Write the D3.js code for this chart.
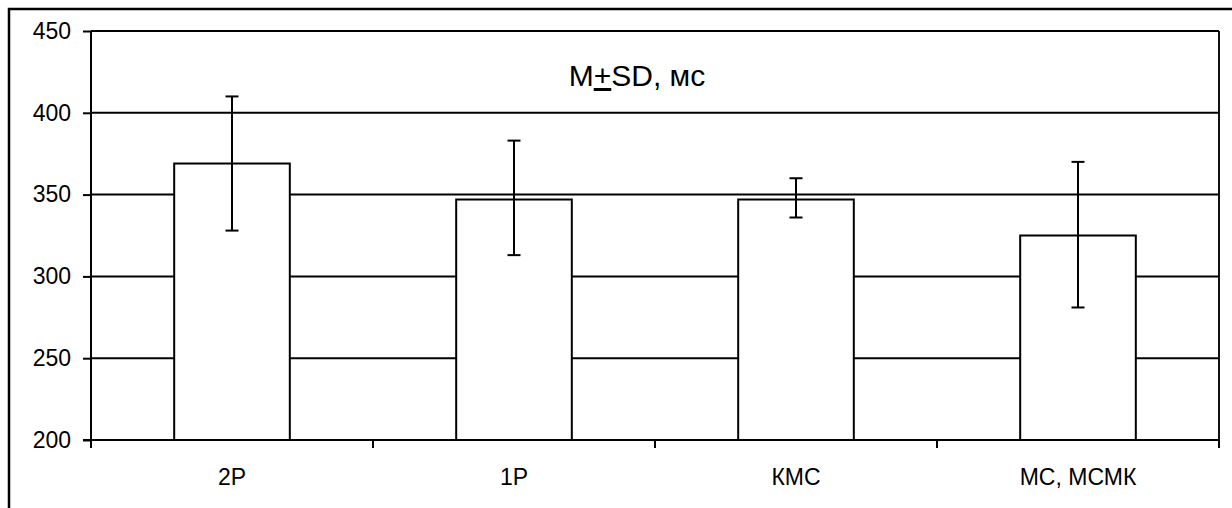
<!DOCTYPE html>
<html>
<head>
<meta charset="utf-8">
<script src="https://cdn.jsdelivr.net/npm/d3@7"></script>
<style>
  body { margin: 0; background: #fff; }
  svg text { font-family: "Liberation Sans", Arial, sans-serif; fill: #000; }
</style>
</head>
<body>
<div id="chart"></div>
<script>
// data
const categories = ["2Р", "1Р", "КМС", "МС, МСМК"];
const means = [369, 347, 347, 325];
const sdHigh = [410, 383, 360, 370];
const sdLow = [328, 313, 336, 281];
const yTicks = [200, 250, 300, 350, 400, 450];

const width = 1232, height = 508;
const plotLeft = 91, plotRight = 1219, plotTop = 31, plotBottom = 440;

const svg = d3.select('#chart').append('svg')
    .attr('width', width)
    .attr('height', height);

// outer frame (runs off the right/bottom edge in the original)
svg.append('path')
    .attr('d', `M9,${height + 2}V9H${width + 2}`)
    .attr('fill', 'none')
    .attr('stroke', '#000')
    .attr('stroke-width', 2.5);

const x = d3.scaleBand()
    .domain(categories)
    .range([plotLeft, plotRight]);

const y = d3.scaleLinear()
    .domain([200, 450])
    .range([plotBottom, plotTop]);

// gridlines
svg.append('g')
    .selectAll('line')
    .data(yTicks)
    .join('line')
    .attr('x1', plotLeft)
    .attr('x2', plotRight)
    .attr('y1', d => y(d))
    .attr('y2', d => y(d))
    .attr('stroke', '#000')
    .attr('stroke-width', 2);

// right border of plot area
svg.append('line')
    .attr('x1', plotRight).attr('x2', plotRight)
    .attr('y1', plotTop).attr('y2', plotBottom + 8)
    .attr('stroke', '#111')
    .attr('stroke-width', 2);

// bars
const barW = x.bandwidth() * 0.41;
const data = categories.map((c, i) => ({
    cat: c, mean: means[i], hi: sdHigh[i], lo: sdLow[i]
}));

svg.append('g')
    .selectAll('rect')
    .data(data)
    .join('rect')
    .attr('x', d => x(d.cat) + x.bandwidth() / 2 - barW / 2)
    .attr('width', barW)
    .attr('y', d => y(d.mean))
    .attr('height', d => y(200) - y(d.mean))
    .attr('fill', '#fff')
    .attr('stroke', '#000')
    .attr('stroke-width', 2);

// error bars
const eb = svg.append('g')
    .attr('stroke', '#000')
    .attr('stroke-width', 2);

const capW = 13;
data.forEach(d => {
    const cx = x(d.cat) + x.bandwidth() / 2;
    eb.append('line')
        .attr('x1', cx).attr('x2', cx)
        .attr('y1', y(d.hi)).attr('y2', y(d.lo));
    [d.hi, d.lo].forEach(v => {
        eb.append('line')
            .attr('x1', cx - capW / 2).attr('x2', cx + capW / 2)
            .attr('y1', y(v)).attr('y2', y(v));
    });
});

// y axis
const yAxis = svg.append('g')
    .attr('transform', `translate(${plotLeft},0)`)
    .call(d3.axisLeft(y).tickValues(yTicks).tickSize(8).tickPadding(12));
yAxis.selectAll('line, path').attr('stroke', '#000').attr('stroke-width', 2);
yAxis.select('.domain').attr('d', `M0,${plotTop}V${plotBottom + 8}`);
yAxis.selectAll('text')
    .style('font-size', '23px')
    .attr('font-family', null);
yAxis.attr('font-family', null).attr('font-size', null);

// x axis
const xAxis = svg.append('g')
    .attr('transform', `translate(0,${plotBottom})`);
xAxis.append('line')
    .attr('x1', plotLeft - 8).attr('x2', plotRight)
    .attr('stroke', '#000').attr('stroke-width', 2);
const bounds = categories.map(c => x(c)).concat([plotRight]);
xAxis.selectAll('line.tick')
    .data(bounds)
    .join('line')
    .attr('class', 'tick')
    .attr('x1', d => d).attr('x2', d => d)
    .attr('y1', 0).attr('y2', 8)
    .attr('stroke', '#000').attr('stroke-width', 2);
xAxis.selectAll('text')
    .data(categories)
    .join('text')
    .attr('x', d => x(d) + x.bandwidth() / 2)
    .attr('y', 45)
    .attr('text-anchor', 'middle')
    .style('font-size', '23px')
    .text(d => d);

// title with underlined plus (±)
const title = svg.append('text')
    .attr('x', 637)
    .attr('y', 86)
    .attr('text-anchor', 'middle')
    .style('font-size', '30px');
title.append('tspan').text('M');
title.append('tspan').attr('text-decoration', 'underline').text('+');
title.append('tspan').text('SD, мс');
</script>
</body>
</html>
